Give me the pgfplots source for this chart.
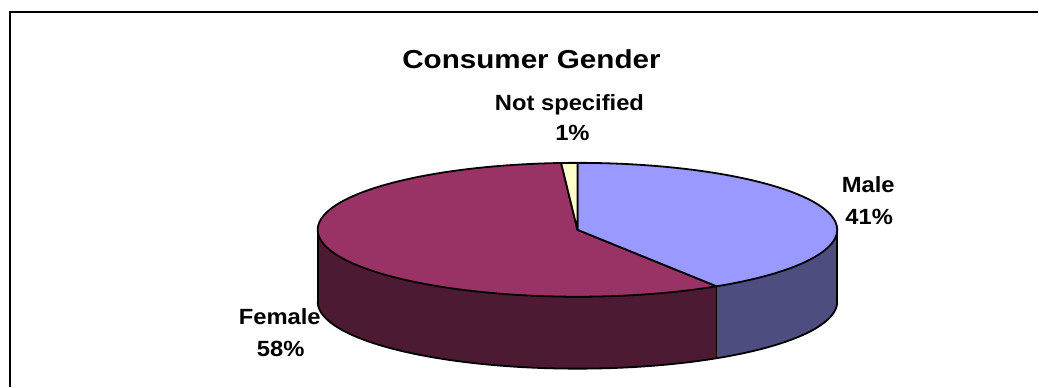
\documentclass[border=0pt]{standalone}
\usepackage{fontspec}
\setmainfont{Liberation Sans}
\usepackage{graphicx}
\usepackage{pgfplots}
\pgfplotsset{compat=1.18}
\usepackage{pgfplotstable}
\usepgfplotslibrary{fillbetween}

\definecolor{maleTop}{HTML}{9999FF}
\definecolor{maleSide}{HTML}{4D4D80}
\definecolor{femTop}{HTML}{993366}
\definecolor{femSide}{HTML}{4D1A33}
\definecolor{nsTop}{HTML}{FFFFCC}

\pgfplotstableread{
label value
Male 41
NotSpecified 1
Female 58
}\piedata

\newcommand\lbl[1]{\scalebox{1.08}[1]{\fontsize{11}{13}\selectfont\bfseries #1}}

\begin{document}
\begin{tikzpicture}
\pgfplotstablegetelem{0}{value}\of\piedata \let\vMale\pgfplotsretval
\pgfplotstablegetelem{1}{value}\of\piedata \let\vNS\pgfplotsretval
\pgfplotstablegetelem{2}{value}\of\piedata \let\vFem\pgfplotsretval
\pgfmathsetmacro\aMaleStart{90-3.6*\vMale}
\pgfmathsetmacro\aNSEnd{90+3.6*\vNS}
\pgfmathsetmacro\aFemEnd{\aNSEnd+3.6*\vFem}
\def\cx{578}\def\cy{230}\def\ra{260}\def\rb{67}\def\dep{72}
\pgfmathsetmacro\xL{\cx-\ra}
\pgfmathsetmacro\xR{\cx+\ra}
\pgfmathsetmacro\yB{\cy+\dep}
\pgfmathsetmacro\xF{\cx+\ra*cos(\aFemEnd)}
\pgfmathsetmacro\yF{\cy-\rb*sin(\aFemEnd)}
\pgfmathsetmacro\yFB{\yF+\dep}
\begin{axis}[
  scale only axis, width=519.5pt, height=193.5pt,
  xmin=0, xmax=1039, ymin=0, ymax=387, y dir=reverse,
  xtick=\empty, ytick=\empty, axis line style={draw=none},
  clip=false]
% frame
\draw[line width=1pt, black, line cap=butt] (axis cs:10,387) -- (axis cs:10,12) -- (axis cs:1039,12);
% side walls
\addplot[name path=ft, draw=none, domain=180:\aFemEnd, samples=90] ({\cx+\ra*cos(x)},{\cy-\rb*sin(x)});
\addplot[name path=fb, draw=none, domain=180:\aFemEnd, samples=90] ({\cx+\ra*cos(x)},{\cy+\dep-\rb*sin(x)});
\addplot[fill=femSide, draw=none] fill between[of=ft and fb];
\addplot[name path=mt, draw=none, domain=\aFemEnd:360, samples=40] ({\cx+\ra*cos(x)},{\cy-\rb*sin(x)});
\addplot[name path=mb, draw=none, domain=\aFemEnd:360, samples=40] ({\cx+\ra*cos(x)},{\cy+\dep-\rb*sin(x)});
\addplot[fill=maleSide, draw=none] fill between[of=mt and mb];
% side outlines
\addplot[black, line width=0.9pt, domain=180:360, samples=120] ({\cx+\ra*cos(x)},{\cy+\dep-\rb*sin(x)});
\addplot[black, line width=0.9pt] coordinates {(\xL,\cy) (\xL,\yB)};
\addplot[black, line width=0.9pt] coordinates {(\xR,\cy) (\xR,\yB)};
\addplot[black, line width=0.7pt] coordinates {(\xF,\yF) (\xF,\yFB)};
% top faces
\addplot[fill=femTop, draw=black, line width=0.9pt, line join=round, domain=\aNSEnd:\aFemEnd, samples=120] ({\cx+\ra*cos(x)},{\cy-\rb*sin(x)}) -- (axis cs:\cx,\cy) -- cycle;
\addplot[fill=maleTop, draw=black, line width=0.9pt, line join=round, domain=\aMaleStart:90, samples=90] ({\cx+\ra*cos(x)},{\cy-\rb*sin(x)}) -- (axis cs:\cx,\cy) -- cycle;
\addplot[fill=nsTop, draw=black, line width=0.9pt, line join=round, domain=90:\aNSEnd, samples=5] ({\cx+\ra*cos(x)},{\cy-\rb*sin(x)}) -- (axis cs:\cx,\cy) -- cycle;
% labels
\node[anchor=base] at (axis cs:532,69) {\scalebox{1.14}[1]{\fontsize{13}{15}\selectfont\bfseries Consumer Gender}};
\node[anchor=base] at (axis cs:570,111) {\lbl{Not specified}};
\node[anchor=base] at (axis cs:573,141) {\lbl{1\%}};
\node[anchor=base] at (axis cs:869,193) {\lbl{Male}};
\node[anchor=base] at (axis cs:870,225) {\lbl{41\%}};
\node[anchor=base] at (axis cs:280,325) {\lbl{Female}};
\node[anchor=base] at (axis cs:281,357) {\lbl{58\%}};
\end{axis}
\end{tikzpicture}
\end{document}
